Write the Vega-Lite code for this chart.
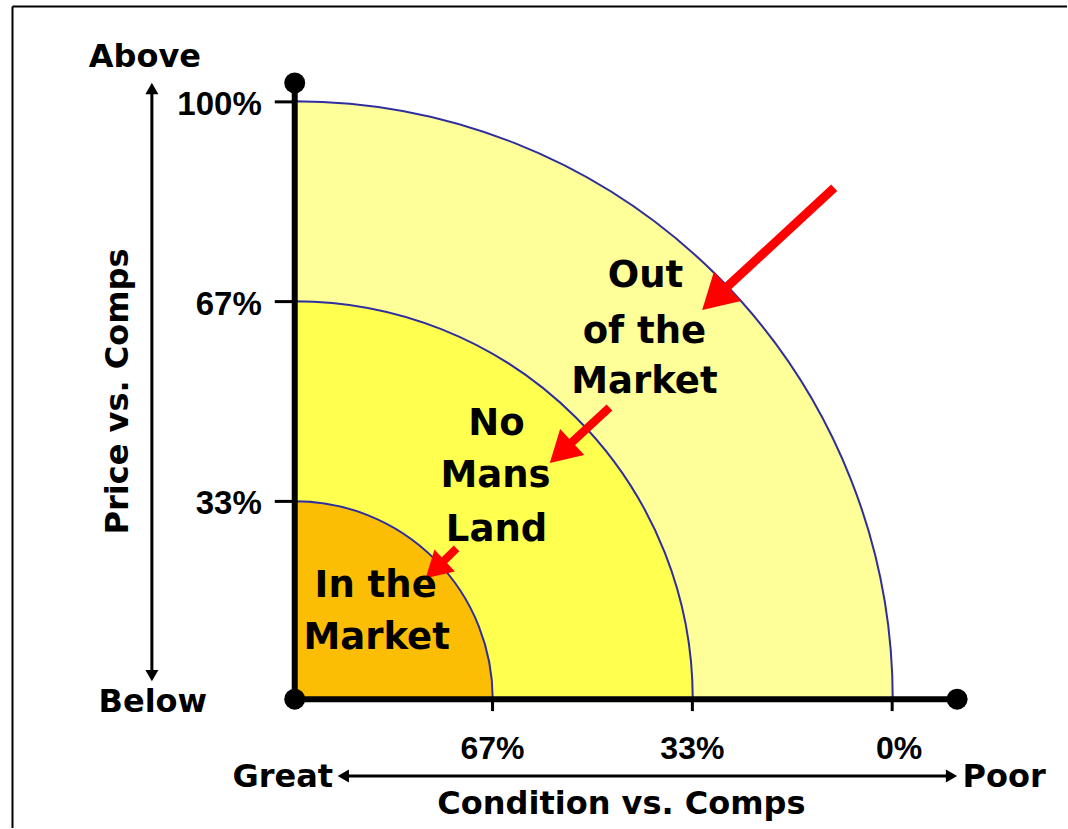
{
  "$schema": "https://vega.github.io/schema/vega-lite/v6.json",
  "width": 1068,
  "height": 829,
  "padding": 0,
  "autosize": {"type": "fit", "contains": "padding"},
  "background": "white",
  "config": {"view": {"stroke": null}},
  "datasets": {
    "zones": [
      {"zone": "Out of the Market", "x": 0, "y": 0, "r": 100, "a0": 0, "a1": 90},
      {"zone": "No Mans Land", "x": 0, "y": 0, "r": 66.56, "a0": 0, "a1": 90},
      {"zone": "In the Market", "x": 0, "y": 0, "r": 33.11, "a0": 0, "a1": 90}
    ],
    "frame": [
      {"x": -47.24, "y": 115.97, "x2": -47.24, "y2": -21.57},
      {"x": -47.24, "y": 115.97, "x2": 129.26, "y2": 115.97}
    ],
    "axes": [
      {"x": 0, "y": 0, "x2": 0, "y2": 103.18},
      {"x": 0, "y": 0, "x2": 110.87, "y2": 0}
    ],
    "ticks": [
      {"x": -3.34, "y": 100, "x2": 0, "y2": 100},
      {"x": -3.34, "y": 66.56, "x2": 0, "y2": 66.56},
      {"x": -3.34, "y": 33.11, "x2": 0, "y2": 33.11},
      {"x": 33.11, "y": 0, "x2": 33.11, "y2": -2.0},
      {"x": 66.56, "y": 0, "x2": 66.56, "y2": -2.0},
      {"x": 100, "y": 0, "x2": 100, "y2": -2.0}
    ],
    "dots": [
      {"x": 0, "y": 0},
      {"x": 0, "y": 103.18},
      {"x": 110.87, "y": 0}
    ],
    "shafts": [
      {"x": -23.91, "y": 102.24, "x2": -23.91, "y2": 3.95},
      {"x": 8.13, "y": -12.88, "x2": 109.93, "y2": -12.88}
    ],
    "heads": [
      {"x": -23.91, "y": 102.24, "dir": "up"},
      {"x": -23.91, "y": 3.95, "dir": "down"},
      {"x": 8.13, "y": -12.88, "dir": "left"},
      {"x": 109.93, "y": -12.88, "dir": "right"}
    ],
    "pointers": [
      {"arrow": "out", "x": 90.30, "y": 85.62, "x2": 70.32, "y2": 67.14},
      {"arrow": "nml", "x": 52.68, "y": 48.83, "x2": 44.57, "y2": 41.30},
      {"arrow": "in", "x": 27.09, "y": 25.25, "x2": 23.51, "y2": 21.74}
    ],
    "texts": [
      {"text": "In the", "x": 13.55, "y": 17.06, "role": "region"},
      {"text": "Market", "x": 13.71, "y": 8.36, "role": "region"},
      {"text": "No", "x": 33.78, "y": 44.31, "role": "region"},
      {"text": "Mans", "x": 33.61, "y": 35.45, "role": "region"},
      {"text": "Land", "x": 33.78, "y": 26.42, "role": "region"},
      {"text": "Out", "x": 58.70, "y": 69.06, "role": "region"},
      {"text": "of the", "x": 58.53, "y": 59.70, "role": "region"},
      {"text": "Market", "x": 58.53, "y": 51.34, "role": "region"},
      {"text": "100%", "x": -5.52, "y": 97.83, "role": "ytick"},
      {"text": "67%", "x": -5.52, "y": 64.38, "role": "ytick"},
      {"text": "33%", "x": -5.52, "y": 30.94, "role": "ytick"},
      {"text": "67%", "x": 33.11, "y": -10.03, "role": "xtick"},
      {"text": "33%", "x": 66.56, "y": -10.03, "role": "xtick"},
      {"text": "0%", "x": 101.17, "y": -10.03, "role": "xtick"},
      {"text": "Above", "x": -25.08, "y": 105.85, "role": "end"},
      {"text": "Below", "x": -23.75, "y": -2.17, "role": "end"},
      {"text": "Great", "x": -2.01, "y": -14.72, "role": "end"},
      {"text": "Poor", "x": 118.73, "y": -14.72, "role": "end"},
      {"text": "Condition vs. Comps", "x": 54.68, "y": -19.23, "role": "end"},
      {"text": "Price vs. Comps", "x": -27.93, "y": 51.51, "role": "ytitle"}
    ]
  },
  "layer": [
    {
      "data": {"name": "zones"},
      "mark": {"type": "arc", "stroke": "#2E2E9E", "strokeWidth": 2},
      "encoding": {
        "x": {"field": "x", "type": "quantitative", "scale": {"domain": [-49.331, 129.264], "nice": false, "zero": false}, "axis": null},
        "y": {"field": "y", "type": "quantitative", "scale": {"domain": [-21.572, 117.057], "nice": false, "zero": false}, "axis": null},
        "radius": {"field": "r", "type": "quantitative", "scale": {"type": "linear", "domain": [0, 100], "range": [0, 598], "zero": true}},
        "theta": {"field": "a0", "type": "quantitative", "stack": null, "scale": {"domain": [0, 360], "range": [0, 6.283185307]}},
        "theta2": {"field": "a1"},
        "color": {"field": "zone", "type": "nominal", "legend": null,
          "scale": {"domain": ["Out of the Market", "No Mans Land", "In the Market"], "range": ["#FFFF99", "#FFFF50", "#FCBE04"]}}
      }
    },
    {
      "data": {"name": "frame"},
      "mark": {"type": "rule", "color": "#000000", "strokeWidth": 2},
      "encoding": {
        "x": {"field": "x", "type": "quantitative", "scale": {"domain": [-49.331, 129.264], "nice": false, "zero": false}, "axis": null},
        "y": {"field": "y", "type": "quantitative", "scale": {"domain": [-21.572, 117.057], "nice": false, "zero": false}, "axis": null},
        "x2": {"field": "x2"},
        "y2": {"field": "y2"}
      }
    },
    {
      "data": {"name": "ticks"},
      "mark": {"type": "rule", "color": "#000000", "strokeWidth": 3},
      "encoding": {
        "x": {"field": "x", "type": "quantitative", "axis": null},
        "y": {"field": "y", "type": "quantitative", "axis": null},
        "x2": {"field": "x2"},
        "y2": {"field": "y2"}
      }
    },
    {
      "data": {"name": "axes"},
      "mark": {"type": "rule", "color": "#000000", "strokeWidth": 6},
      "encoding": {
        "x": {"field": "x", "type": "quantitative", "axis": null},
        "y": {"field": "y", "type": "quantitative", "axis": null},
        "x2": {"field": "x2"},
        "y2": {"field": "y2"}
      }
    },
    {
      "data": {"name": "dots"},
      "mark": {"type": "point", "shape": "circle", "filled": true, "color": "#000000", "size": 441, "opacity": 1},
      "encoding": {
        "x": {"field": "x", "type": "quantitative", "axis": null},
        "y": {"field": "y", "type": "quantitative", "axis": null}
      }
    },
    {
      "data": {"name": "shafts"},
      "mark": {"type": "rule", "color": "#000000", "strokeWidth": 3},
      "encoding": {
        "x": {"field": "x", "type": "quantitative", "axis": null},
        "y": {"field": "y", "type": "quantitative", "axis": null},
        "x2": {"field": "x2"},
        "y2": {"field": "y2"}
      }
    },
    {
      "data": {"name": "heads"},
      "mark": {"type": "point", "filled": true, "color": "#000000", "size": 169, "opacity": 1},
      "encoding": {
        "x": {"field": "x", "type": "quantitative", "axis": null},
        "y": {"field": "y", "type": "quantitative", "axis": null},
        "shape": {"field": "dir", "type": "nominal", "legend": null,
          "scale": {"domain": ["up", "down", "left", "right"], "range": ["triangle-up", "triangle-down", "triangle-left", "triangle-right"]}}
      }
    },
    {
      "data": {"name": "pointers"},
      "mark": {"type": "rule", "color": "#FF0000"},
      "encoding": {
        "x": {"field": "x", "type": "quantitative", "axis": null},
        "y": {"field": "y", "type": "quantitative", "axis": null},
        "x2": {"field": "x2"},
        "y2": {"field": "y2"},
        "strokeWidth": {"field": "arrow", "type": "nominal", "legend": null,
          "scale": {"domain": ["out", "nml", "in"], "range": [9, 8, 7]}}
      }
    },
    {
      "data": {"name": "pointers"},
      "mark": {"type": "point", "shape": "triangle-up", "filled": true, "color": "#FF0000", "angle": 227, "opacity": 1},
      "encoding": {
        "x": {"field": "x2", "type": "quantitative", "axis": null},
        "y": {"field": "y2", "type": "quantitative", "axis": null},
        "size": {"field": "arrow", "type": "nominal", "legend": null,
          "scale": {"domain": ["out", "nml", "in"], "range": [1600, 900, 576]}}
      }
    },
    {
      "data": {"name": "texts"},
      "transform": [{"filter": "datum.role === 'region'"}],
      "mark": {"type": "text", "font": "DejaVu Sans", "fontWeight": "bold", "fontSize": 37, "align": "center", "baseline": "alphabetic", "color": "#000000"},
      "encoding": {
        "x": {"field": "x", "type": "quantitative", "axis": null},
        "y": {"field": "y", "type": "quantitative", "axis": null},
        "text": {"field": "text"}
      }
    },
    {
      "data": {"name": "texts"},
      "transform": [{"filter": "datum.role === 'ytick'"}],
      "mark": {"type": "text", "font": "Liberation Sans", "fontWeight": "bold", "fontSize": 33, "align": "right", "baseline": "alphabetic", "color": "#000000"},
      "encoding": {
        "x": {"field": "x", "type": "quantitative", "axis": null},
        "y": {"field": "y", "type": "quantitative", "axis": null},
        "text": {"field": "text"}
      }
    },
    {
      "data": {"name": "texts"},
      "transform": [{"filter": "datum.role === 'xtick'"}],
      "mark": {"type": "text", "font": "Liberation Sans", "fontWeight": "bold", "fontSize": 32, "align": "center", "baseline": "alphabetic", "color": "#000000"},
      "encoding": {
        "x": {"field": "x", "type": "quantitative", "axis": null},
        "y": {"field": "y", "type": "quantitative", "axis": null},
        "text": {"field": "text"}
      }
    },
    {
      "data": {"name": "texts"},
      "transform": [{"filter": "datum.role === 'end'"}],
      "mark": {"type": "text", "font": "DejaVu Sans", "fontWeight": "bold", "fontSize": 32, "align": "center", "baseline": "alphabetic", "color": "#000000"},
      "encoding": {
        "x": {"field": "x", "type": "quantitative", "axis": null},
        "y": {"field": "y", "type": "quantitative", "axis": null},
        "text": {"field": "text"}
      }
    },
    {
      "data": {"name": "texts"},
      "transform": [{"filter": "datum.role === 'ytitle'"}],
      "mark": {"type": "text", "font": "DejaVu Sans", "fontWeight": "bold", "fontSize": 32, "align": "center", "baseline": "alphabetic", "angle": 270, "color": "#000000"},
      "encoding": {
        "x": {"field": "x", "type": "quantitative", "axis": null},
        "y": {"field": "y", "type": "quantitative", "axis": null},
        "text": {"field": "text"}
      }
    }
  ]
}
